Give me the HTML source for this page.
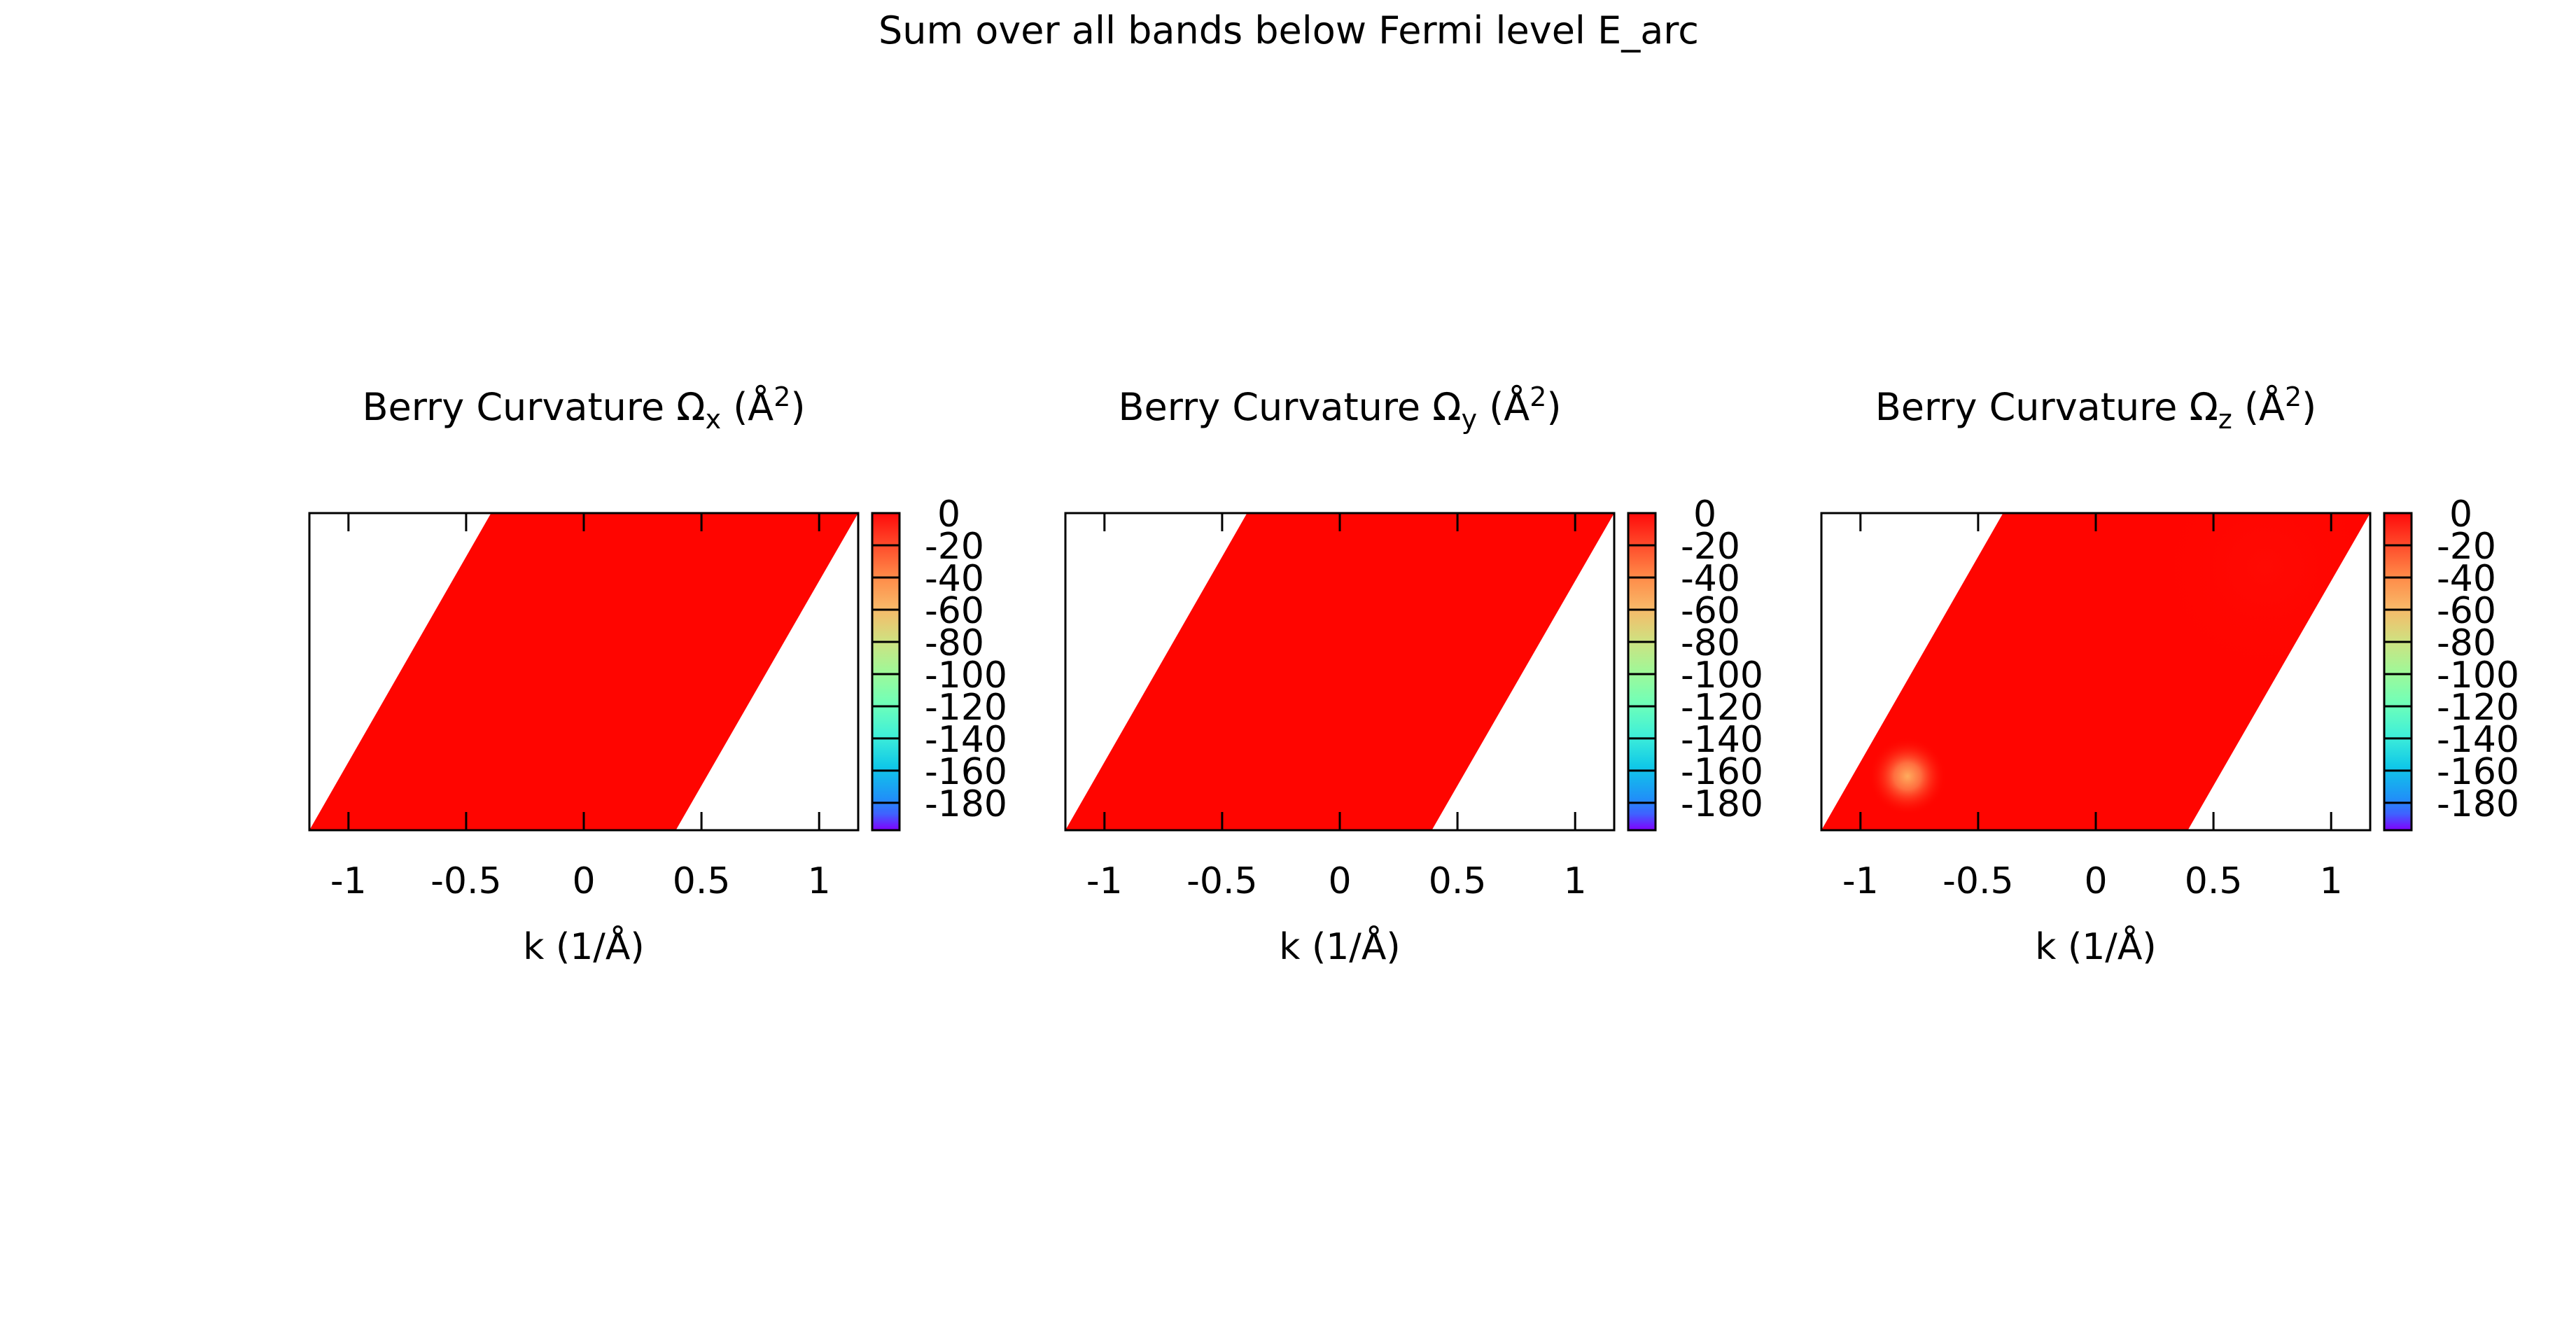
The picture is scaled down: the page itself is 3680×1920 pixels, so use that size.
<!DOCTYPE html>
<html><head><meta charset="utf-8"><style>
html,body{margin:0;padding:0;background:#fff;}
svg{display:block;font-family:"DejaVu Sans","Liberation Sans",sans-serif;}
</style></head><body>
<svg id="chart" width="3680" height="1920" viewBox="0 0 3680 1920" xmlns="http://www.w3.org/2000/svg">
<defs id="defs">
<linearGradient id="cbg" x1="0" y1="0" x2="0" y2="1">
<stop offset="0" stop-color="#ff0a0a"/>
<stop offset="0.1" stop-color="#ff4a2a"/>
<stop offset="0.2" stop-color="#ff8a48"/>
<stop offset="0.3" stop-color="#f8b868"/>
<stop offset="0.4" stop-color="#d0e080"/>
<stop offset="0.5" stop-color="#a0f898"/>
<stop offset="0.6" stop-color="#70ffb8"/>
<stop offset="0.7" stop-color="#40f0d8"/>
<stop offset="0.8" stop-color="#10c8e8"/>
<stop offset="0.9" stop-color="#2090f8"/>
<stop offset="0.95" stop-color="#4060ff"/>
<stop offset="1" stop-color="#8000ff"/>
</linearGradient>
<radialGradient id="hot1"><stop offset="0" stop-color="#ffb060"/><stop offset="0.35" stop-color="#ff7040"/><stop offset="1" stop-color="#ff0a00" stop-opacity="0"/></radialGradient>
<radialGradient id="hot2"><stop offset="0" stop-color="#ff2818"/><stop offset="1" stop-color="#ff0a00" stop-opacity="0"/></radialGradient>
</defs>
<text x="1841" y="62" font-size="54" text-anchor="middle">Sum over all bands below Fermi level E_arc</text>
<g id="panels"></g>
</svg>
<script>
const xTicks = [-1, -0.5, 0, 0.5, 1];
const xTickLabels = ["-1", "-0.5", "0", "0.5", "1"];
const cbTicks = [0, -20, -40, -60, -80, -100, -120, -140, -160, -180];
const cbMin = -197, cbMax = 0;
const xMin = -1.166, xMax = 1.166;
const regionBottom = [-1.166, 0.391];
const regionTop = [-0.394, 1.166];
const components = ["x", "y", "z"];
const hotSpotK = [-0.8, 0.72];
const hotSpotRow = [0.83, 0.17];
const hotSpotValue = [-55, -8];

const NS = "http://www.w3.org/2000/svg";
const g = document.getElementById("panels");
const defs = document.getElementById("defs");
function mk(tag, attrs, parent) {
  const e = document.createElementNS(NS, tag);
  for (const k in attrs) e.setAttribute(k, attrs[k]);
  (parent || g).appendChild(e);
  return e;
}
const fTop = 733, fBot = 1186;
components.forEach((c, i) => {
  const off = i * 1080;
  const L = 442 + off, R = 1226 + off;
  const sx = v => L + (v - xMin) / (xMax - xMin) * (R - L);
  const pts = [sx(regionBottom[0]) + "," + fBot, sx(regionTop[0]) + "," + fTop, sx(regionTop[1]) + "," + fTop, sx(regionBottom[1]) + "," + fBot].join(" ");
  const pg = mk("g", {});
  
  
  const t = mk("text", {x: (L + R) / 2, y: 600, "font-size": 54, "text-anchor": "middle"}, pg);
  
  
  t.innerHTML = 'Berry Curvature Ω<tspan font-size="38" dy="12">' + c + '</tspan><tspan dy="-12"> (Å</tspan><tspan font-size="38" dy="-20">2</tspan><tspan dy="20">)</tspan>';
  const poly = mk("polygon", {points: pts, fill: "#ff0500"}, pg);
  
  
  if (c === "z") {
    const cp = mk("clipPath", {id: "clip-" + c}, defs);
    mk("polygon", {points: pts}, cp);
    const hg = mk("g", {"clip-path": "url(#clip-" + c + ")"}, pg);
    hotSpotK.forEach((k, j) => {
      const strength = Math.abs(hotSpotValue[j]) / Math.abs(cbMin);
      const r = j === 0 ? 55 : 160;
      const h = mk("ellipse", {cx: sx(k), cy: fTop + hotSpotRow[j] * (fBot - fTop), rx: r, ry: r, fill: j === 0 ? "url(#hot1)" : "url(#hot2)", opacity: Math.min(1, strength * 3.5)}, hg);
      
      
    });
  }
  const fr = mk("rect", {x: L, y: fTop, width: R - L, height: fBot - fTop, fill: "none", stroke: "#000", "stroke-width": 3}, pg);
  
  
  xTicks.forEach((v, j) => {
    const x = sx(v);
    const tk = mk("path", {d: `M${x},${fTop}v26M${x},${fBot}v-26`, stroke: "#000", "stroke-width": 3}, pg);
    
    
    const tl = mk("text", {x: x, y: 1276, "font-size": 52, "text-anchor": "middle"}, pg);
    
    
    tl.textContent = xTickLabels[j];
  });
  const xl = mk("text", {x: (L + R) / 2, y: 1370, "font-size": 52, "text-anchor": "middle"}, pg);
  
  
  xl.textContent = "k (1/Å)";
  const cbL = 1246 + off, cbW = 39;
  const sy = v => fTop + (cbMax - v) / (cbMax - cbMin) * (fBot - fTop);
  const cb = mk("rect", {x: cbL, y: fTop, width: cbW, height: fBot - fTop, fill: "url(#cbg)", stroke: "#000", "stroke-width": 3}, pg);
  
  
  cbTicks.forEach(v => {
    const y = sy(v);
    if (v !== 0) {
      const ln = mk("line", {x1: cbL, x2: cbL + cbW, y1: y, y2: y, stroke: "#000", "stroke-width": 3}, pg);
      
      
    }
    const lb = mk("text", {x: cbL + (v === 0 ? 93 : 75), y: y + 19, "font-size": 52}, pg);
    
    
    lb.textContent = String(v);
  });
});
</script>
</body></html>
